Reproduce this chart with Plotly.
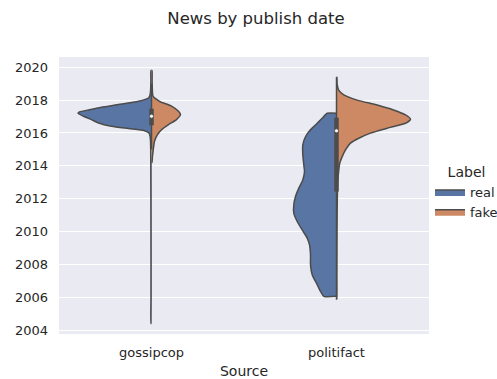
import plotly.graph_objects as go

# Sources on the x axis and the two labels split within each violin
sources = ["gossipcop", "politifact"]
labels = ["real", "fake"]
colors = {"real": "#5875A4", "fake": "#CC8963"}
outline = "#4C4C4C"

# Kernel density profiles (publish year -> density), one per source/label
gossip_real_year = [2019.8, 2019.2, 2018.6, 2018.3, 2018.13, 2017.93, 2017.73, 2017.57, 2017.42,
                    2017.28, 2017.2, 2017.02, 2016.81, 2016.61, 2016.41, 2016.27, 2016.14,
                    2016.0, 2015.8, 2015.5, 2015.0, 2014.0, 2012.0, 2010.0, 2008.0, 2006.0, 2004.4]
gossip_real_dens = [0.5, 0.6, 0.9, 1.5, 3.0, 13, 33, 50, 62,
                    72, 73.5, 68, 60, 53, 40, 23, 7,
                    2.5, 1.4, 1.0, 0.8, 0.7, 0.6, 0.55, 0.5, 0.5, 0.4]

gossip_fake_year = [2019.8, 2019.2, 2018.6, 2018.24, 2017.93, 2017.63, 2017.32, 2017.12, 2016.81,
                    2016.51, 2016.2, 2015.9, 2015.5, 2015.1, 2014.6, 2014.2]
gossip_fake_dens = [0.5, 0.6, 0.9, 1.5, 8, 20, 27, 29, 25,
                    17, 10, 6, 3, 2, 1.0, 0.4]

polit_real_year = [2017.2, 2016.9, 2016.49, 2016.08, 2015.68, 2015.27, 2014.67, 2014.06, 2013.65,
                   2013.14, 2012.64, 2012.13, 2011.62, 2011.12, 2010.61, 2010.1, 2009.6, 2009.19,
                   2008.58, 2007.97, 2007.37, 2006.76, 2006.35, 2006.05]
polit_real_dens = [9.3, 14.3, 21, 27.7, 31.7, 33.7, 33.7, 32.7, 32,
                   33.7, 37.7, 41, 42.7, 42.7, 39.3, 34.3, 29.3, 27,
                   26, 26, 24.3, 19.3, 16, 12.7]

polit_fake_year = [2019.4, 2019.0, 2018.62, 2018.32, 2018.0, 2017.7, 2017.4, 2017.1, 2016.84,
                   2016.59, 2016.29, 2015.99, 2015.68, 2015.38, 2014.97, 2014.56, 2014.16,
                   2013.75, 2013.0, 2011.0, 2009.0, 2007.0, 2005.9]
polit_fake_dens = [0.3, 0.6, 2.0, 7.3, 20.7, 40.7, 57, 69, 74,
                   69, 50.7, 34, 22.3, 14, 9, 5.7, 3.3,
                   2.3, 1.2, 0.6, 0.4, 0.3, 0.2]

# Inner box statistics per source: q1, median, q3, whisker low, whisker high
box_q1 = [2016.47, 2012.43]
box_median = [2017.02, 2016.13]
box_q3 = [2017.48, 2016.93]
whisker_low = [2015.0, 2005.85]
whisker_high = [2019.0, 2019.4]

profiles = {
    ("gossipcop", "real"): (gossip_real_year, gossip_real_dens),
    ("gossipcop", "fake"): (gossip_fake_year, gossip_fake_dens),
    ("politifact", "real"): (polit_real_year, polit_real_dens),
    ("politifact", "fake"): (polit_fake_year, polit_fake_dens),
}

max_dens = max(max(d) for _, d in profiles.values())
half_width = 0.4  # half of the violin width in category units

fig = go.Figure()
for i, src in enumerate(sources):
    for lab in labels:
        ys, ds = profiles[(src, lab)]
        sign = -1 if lab == "real" else 1
        xs = [i + sign * d / max_dens * half_width for d in ds]
        # outer density curve (smoothed), closed along the centre line
        fig.add_trace(go.Scatter(
            x=[i] + xs + [i], y=[ys[0]] + ys + [ys[-1]], mode="lines", fill="toself",
            fillcolor=colors[lab],
            line=dict(color=outline, width=1.5, shape="spline", smoothing=0.6),
            name=lab, legendgroup=lab, showlegend=(i == 0),
            hoverinfo="skip",
        ))

# Inner boxes: whisker line, thick IQR bar and median dot
for i, src in enumerate(sources):
    fig.add_trace(go.Scatter(
        x=[i, i], y=[whisker_low[i], whisker_high[i]], mode="lines",
        line=dict(color=outline, width=1.5), showlegend=False, hoverinfo="skip"))
    fig.add_trace(go.Scatter(
        x=[i, i], y=[box_q1[i], box_q3[i]], mode="lines",
        line=dict(color=outline, width=4.5), showlegend=False, hoverinfo="skip"))
    fig.add_trace(go.Scatter(
        x=[i], y=[box_median[i]], mode="markers",
        marker=dict(color="white", size=4, line=dict(color=outline, width=0.8)),
        showlegend=False, hoverinfo="skip"))

text_color = "#262626"
fig.update_layout(
    width=497, height=379,
    margin=dict(l=59, r=68, t=57, b=45, autoexpand=False),
    paper_bgcolor="white",
    plot_bgcolor="#EAEAF2",
    font=dict(family="DejaVu Sans", color=text_color, size=13),
    title=dict(text="News by publish date", x=256 / 497, xref="container", xanchor="center",
               y=1 - 18 / 379, yref="container", yanchor="middle",
               font=dict(size=16.5, color=text_color)),
    xaxis=dict(range=[-0.5, 1.5], tickvals=[0, 1], ticktext=sources,
               showgrid=False, zeroline=False, ticks="", ticklabelstandoff=9,
               title=dict(text="Source", font=dict(size=14), standoff=7),
               tickfont=dict(size=13)),
    yaxis=dict(range=[2003.757, 2020.627], tickvals=list(range(2004, 2021, 2)),
               showgrid=True, gridcolor="white", gridwidth=1.2, zeroline=False,
               ticks="", ticklabelstandoff=10, tickfont=dict(size=13)),
    legend=dict(title=dict(text="Label", side="top center", font=dict(size=14)),
                x=1.0 + 1 / 370, xanchor="left", y=0.51, yanchor="middle",
                font=dict(size=13), bgcolor="rgba(0,0,0,0)", tracegroupgap=0),
)

fig.write_html("out.html")
